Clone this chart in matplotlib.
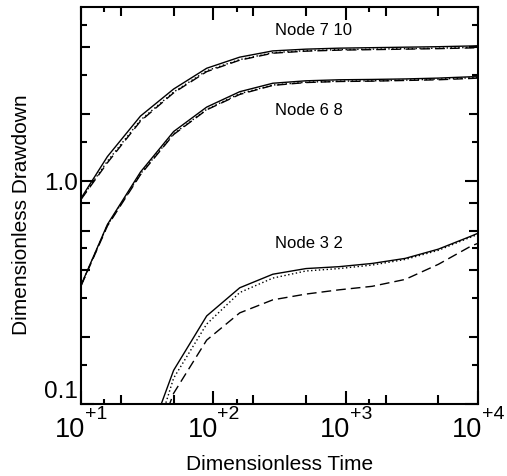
import matplotlib
matplotlib.use("Agg")
import matplotlib.pyplot as plt
from matplotlib.ticker import FixedLocator, NullFormatter
from matplotlib.transforms import ScaledTranslation

plt.rcParams['font.family'] = ['Liberation Sans', 'DejaVu Sans']

# ---- data ----
t_upper = [10, 15.8, 28.1, 50, 88.9, 158, 281, 500, 889, 1581, 2812, 5000, 8891, 10000]
n710_solid = [0.84, 1.29, 1.96, 2.59, 3.21, 3.60, 3.84, 3.91, 3.95, 3.97, 3.99, 4.01, 4.04, 4.05]
n710_dot = [0.835, 1.23, 1.88, 2.51, 3.13, 3.51, 3.77, 3.85, 3.89, 3.91, 3.93, 3.95, 3.98, 3.99]
n710_dash = [0.83, 1.21, 1.86, 2.49, 3.10, 3.49, 3.75, 3.83, 3.87, 3.89, 3.91, 3.93, 3.96, 3.97]

n68_solid = [0.343, 0.64, 1.10, 1.67, 2.15, 2.52, 2.75, 2.82, 2.85, 2.86, 2.875, 2.90, 2.94, 2.94]
n68_dot = [0.342, 0.635, 1.08, 1.63, 2.10, 2.47, 2.70, 2.78, 2.81, 2.82, 2.84, 2.87, 2.91, 2.92]
n68_dash = [0.34, 0.63, 1.07, 1.62, 2.09, 2.45, 2.69, 2.77, 2.80, 2.81, 2.83, 2.85, 2.89, 2.90]

t_lower = [28.1, 50, 88.9, 158, 281, 500, 889, 1581, 2812, 5000, 8891, 10000]
n32_solid = [0.056, 0.142, 0.249, 0.333, 0.383, 0.406, 0.414, 0.428, 0.451, 0.496, 0.568, 0.585]
n32_dot = [0.044, 0.131, 0.229, 0.317, 0.368, 0.396, 0.406, 0.421, 0.446, 0.490, 0.563, 0.578]
n32_dash = [0.045, 0.112, 0.194, 0.257, 0.294, 0.312, 0.326, 0.338, 0.363, 0.424, 0.513, 0.527]

node_labels = ["Node 7 10", "Node 6 8", "Node 3 2"]
node_label_t = [292, 292, 292]
node_label_y = [4.53, 1.98, 0.501]

x_major = [10, 100, 1000, 10000]
x_major_base = ["10", "10", "10", "10"]
x_major_exp = ["+1", "+2", "+3", "+4"]
x_minor_long = [20, 50, 200, 500, 2000, 5000]
x_minor_short = [15, 150, 1500]
y_major = [0.1, 1.0]
y_major_labels = ["0.1", "1.0"]
y_minor_long = [0.2, 0.4, 0.6, 0.8, 2, 4]
y_minor_short = [0.15, 0.3, 0.5, 1.5, 3, 5]

# ---- figure ----
fig = plt.figure(figsize=(5.07, 4.76), dpi=100)
ax = fig.add_axes([0.16, 0.1506, 0.783, 0.835])
ax.set_xscale('log')
ax.set_yscale('log')
ax.set_xlim(10, 10000)
ax.set_ylim(0.1, 6.05)

lw = 1.0
for t, s, d, dd in [(t_upper, n710_solid, n710_dot, n710_dash),
                    (t_upper, n68_solid, n68_dot, n68_dash),
                    (t_lower, n32_solid, n32_dot, n32_dash)]:
    ax.plot(t, s, color='black', lw=lw, ls='-')
    ax.plot(t, d, color='black', lw=lw, ls=(0, (1, 1.8)))
    ax.plot(t, dd, color='black', lw=lw, ls=(0, (7, 3.6)))

for lab, tx, ty in zip(node_labels, node_label_t, node_label_y):
    ax.text(tx, ty, lab, fontsize=12, ha='left', va='baseline')

# ticks
ax.xaxis.set_major_locator(FixedLocator(x_major))
ax.xaxis.set_minor_locator(FixedLocator(x_minor_short + x_minor_long))
ax.yaxis.set_major_locator(FixedLocator(y_major))
ax.yaxis.set_minor_locator(FixedLocator(y_minor_short + y_minor_long))
ax.xaxis.set_minor_formatter(NullFormatter())
ax.yaxis.set_minor_formatter(NullFormatter())
ax.set_xticklabels(["" for _ in x_major])
ax.set_yticklabels(y_major_labels)

ax.tick_params(which='both', direction='in', top=True, right=True, width=1.5,
               color='black')
ax.tick_params(which='major', length=9.5)
ax.tick_params(which='minor', length=6.8)
ax.tick_params(axis='y', which='major', labelsize=17.5, pad=2)

# shorter minor ticks
for i, tk in enumerate(ax.xaxis.get_minor_ticks()):
    if i < len(x_minor_short):
        tk.tick1line.set_markersize(3.8)
        tk.tick2line.set_markersize(3.8)
for i, tk in enumerate(ax.yaxis.get_minor_ticks()):
    if i < len(y_minor_short):
        tk.tick1line.set_markersize(4.2)
        tk.tick2line.set_markersize(4.2)

# x tick labels: "10" with a raised exponent
xtr = ax.get_xaxis_transform()
for xv, base, ex in zip(x_major, x_major_base, x_major_exp):
    ax.text(xv, 0, base, fontsize=19.5, ha='right', va='baseline', clip_on=False,
            transform=xtr + ScaledTranslation(0.045, -0.328, fig.dpi_scale_trans))
    ax.text(xv, 0, ex, fontsize=14, ha='left', va='baseline', clip_on=False,
            transform=xtr + ScaledTranslation(0.04, -0.148, fig.dpi_scale_trans))

# lift the "0.1" label as in the reference
yt = ax.yaxis.get_major_ticks()
yt[0].label1.set_transform(yt[0].label1.get_transform() +
                           ScaledTranslation(0, 0.15, fig.dpi_scale_trans))

for sp in ax.spines.values():
    sp.set_linewidth(1.5)

ax.set_xlabel("Dimensionless Time", fontsize=15)
ax.xaxis.set_label_coords(0.5, -0.127)
ax.set_ylabel("Dimensionless Drawdown", fontsize=15)
ax.yaxis.set_label_coords(-0.125, 0.476)

fig.savefig("out.png", dpi=100)
